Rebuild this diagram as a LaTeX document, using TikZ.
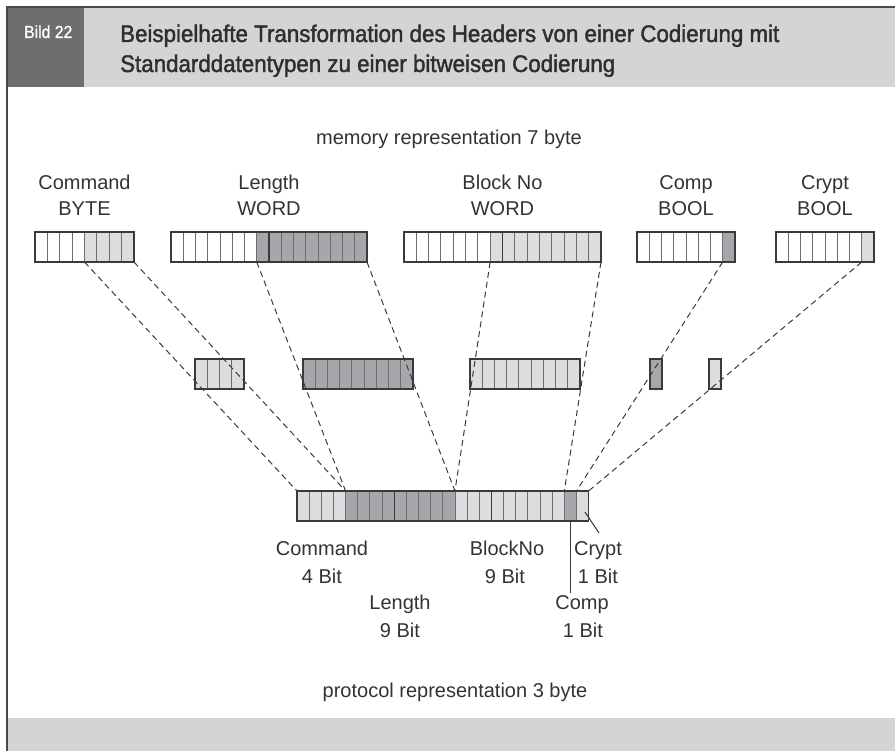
\documentclass[tikz,border=0pt]{standalone}
\usepackage{fontspec}
\setmainfont{Liberation Sans}
\newfontfamily\condfont[FakeStretch=0.9,FakeBold=1]{Liberation Sans}
\newfontfamily\headfont[FakeStretch=0.93,FakeBold=1.6]{Liberation Sans}
\definecolor{hdrdark}{HTML}{6D6E70}
\definecolor{hdrlight}{HTML}{D3D4D6}
\definecolor{celllight}{HTML}{DCDDDF}
\definecolor{celldark}{HTML}{A6A7AA}
\definecolor{framecol}{HTML}{4A4A4A}
\definecolor{regcol}{HTML}{3A3A3A}
\definecolor{sepcol}{HTML}{6E6E6E}
\definecolor{txtcol}{HTML}{333333}
\tikzset{
  bodytext/.style={font=\fontsize{20}{24}\selectfont, text=txtcol, inner sep=0pt, anchor=base},
  titletext/.style={font=\headfont\fontsize{24}{28}\selectfont, text=txtcol!90!black, inner sep=0pt, anchor=base west},
  celldiv/.style={draw=sepcol, line width=0.9pt},
  regframe/.style={draw=regcol, line width=1.4pt},
  bytediv/.style={draw=regcol, line width=1.4pt},
  maplink/.style={draw=regcol, line width=1pt, dash pattern=on 6pt off 4pt},
  leader/.style={draw=regcol, line width=1pt},
}
% x0, y0, cell width, number of cells (>1)
\newcommand\bitcells[4]{%
  \pgfmathtruncatemacro\bcnm{#4-1}%
  \foreach \bci in {1,...,\bcnm}{\draw[celldiv] ({#1+\bci*#3},#2) -- ++(0,30);}%
  \draw[regframe] (#1,#2) rectangle ({#1+#4*#3},{#2+30});%
}
% x0, y0, cell width, from cell, to cell, colour
\newcommand\bitfill[6]{%
  \fill[#6] ({#1+(#4-1)*#3},#2) rectangle ({#1+#5*#3},{#2+30});%
}
\begin{document}
\begin{tikzpicture}[x=1pt,y=-1pt]
\useasboundingbox (0,0) rectangle (895,751);
% frame and header
\fill[hdrlight] (8,8) rectangle (895,87);
\fill[hdrdark] (8,8) rectangle (84,87);
\fill[hdrlight] (8,718) rectangle (895,751);
\draw[framecol, line width=1.6pt] (895,7) -- (7,7) -- (7,751);
\node[font=\condfont\fontsize{17.5}{20}\selectfont, text=white, anchor=base west, inner sep=0pt] (fig) at (24,38) {Bild 22};
\node[titletext] (title1) at (120,42) {Beispielhafte Transformation des Headers von einer Codierung mit};
\node[titletext] (title2) at (120,72) {Standarddatentypen zu einer bitweisen Codierung};

% captions
\node[bodytext] (memrep) at (449,145) {memory representation 7 byte};
\node[bodytext] (protrep) at (455,697) {protocol representation 3 byte};

% top labels
\node[bodytext] (lcmd) at (84.5,190) {Command};
\node[bodytext] (lbyte) at (84.5,216) {BYTE};
\node[bodytext] (llen) at (269,190) {Length};
\node[bodytext] (lword1) at (269,216) {WORD};
\node[bodytext] (lblk) at (502.5,190) {Block No};
\node[bodytext] (lword2) at (502.5,216) {WORD};
\node[bodytext] (lcomp) at (686,190) {Comp};
\node[bodytext] (lbool1) at (686,216) {BOOL};
\node[bodytext] (lcrypt) at (825,190) {Crypt};
\node[bodytext] (lbool2) at (825,216) {BOOL};

% top registers (memory representation)
\bitfill{35}{232}{12.375}{5}{8}{celllight}
\bitcells{35}{232}{12.375}{8}
\bitfill{171}{232}{12.25}{8}{16}{celldark}
\bitcells{171}{232}{12.25}{16}
\draw[bytediv] (269,232) -- ++(0,30);
\bitfill{404}{232}{12.3125}{8}{16}{celllight}
\bitcells{404}{232}{12.3125}{16}
\draw[bytediv] (502.5,232) -- ++(0,30);
\bitfill{637}{232}{12.25}{8}{8}{celldark}
\bitcells{637}{232}{12.25}{8}
\bitfill{776}{232}{12.25}{8}{8}{celllight}
\bitcells{776}{232}{12.25}{8}

% extracted bits (middle row)
\bitfill{195}{359}{12.25}{1}{4}{celllight}
\bitcells{195}{359}{12.25}{4}
\bitfill{303}{359}{12.2}{1}{9}{celldark}
\bitcells{303}{359}{12.2}{9}
\bitfill{470}{359}{12.2}{1}{9}{celllight}
\bitcells{470}{359}{12.2}{9}
\fill[celldark] (650,359) rectangle (662,389);
\draw[regframe] (650,359) rectangle (662,389);
\fill[celllight] (709,359) rectangle (721,389);
\draw[regframe] (709,359) rectangle (721,389);

% bottom register (protocol representation)
\bitfill{297}{491}{12.15}{1}{4}{celllight}
\bitfill{297}{491}{12.15}{5}{13}{celldark}
\bitfill{297}{491}{12.15}{14}{22}{celllight}
\bitfill{297}{491}{12.15}{23}{23}{celldark}
\bitfill{297}{491}{12.15}{24}{24}{celllight}
\bitcells{297}{491}{12.15}{24}
\draw[bytediv] ({297+8*12.15},491) -- ++(0,30);
\draw[bytediv] ({297+16*12.15},491) -- ++(0,30);

% link end points
\coordinate (cmdA) at ({35+4*12.375},262);
\coordinate (cmdB) at (134,262);
\coordinate (lenA) at ({171+7*12.25},262);
\coordinate (lenB) at (367,262);
\coordinate (blkA) at ({404+7*12.3125},262);
\coordinate (blkB) at (601,262);
\coordinate (compA) at ({637+7*12.25},262);
\coordinate (cryptA) at ({776+7*12.25},262);
\coordinate (pCmdA) at (297,491);
\coordinate (pCmdB) at ({297+4*12.15},491);
\coordinate (pLenB) at ({297+13*12.15},491);
\coordinate (pBlkB) at ({297+22*12.15},491);
\coordinate (pCompB) at ({297+23*12.15},491);
\coordinate (pCryptB) at ({297+24*12.15},491);

\draw[maplink] (cmdA) -- (pCmdA);
\draw[maplink] (cmdB) -- (pCmdB);
\draw[maplink] (lenA) -- (pCmdB);
\draw[maplink] (lenB) -- (pLenB);
\draw[maplink] (blkA) -- (pLenB);
\draw[maplink] (blkB) -- (pBlkB);
\draw[maplink] (compA) -- (pCompB);
\draw[maplink] (cryptA) -- (pCryptB);

% bottom labels
\node[bodytext] (bcmd) at (322,555) {Command};
\node[bodytext] (bcmdn) at (322,583) {4 Bit};
\node[bodytext] (blen) at (400,609) {Length};
\node[bodytext] (blenn) at (400,637) {9 Bit};
\node[bodytext] (bblk) at (507,555) {BlockNo};
\node[bodytext] (bblkn) at (505,583) {9 Bit};
\node[bodytext] (bcrypt) at (598,555) {Crypt};
\node[bodytext] (bcryptn) at (598,583) {1 Bit};
\node[bodytext] (bcomp) at (582,609) {Comp};
\node[bodytext] (bcompn) at (583,637) {1 Bit};

% leaders
\coordinate (compCell) at ({297+22.5*12.15},521);
\coordinate (compEnd) at ({297+22.5*12.15},593);
\coordinate (cryptCell) at (585,512);
\coordinate (cryptEnd) at (599,533);
\draw[leader] (compCell) -- (compEnd);
\draw[leader] (cryptCell) -- (cryptEnd);
\end{tikzpicture}
\end{document}
